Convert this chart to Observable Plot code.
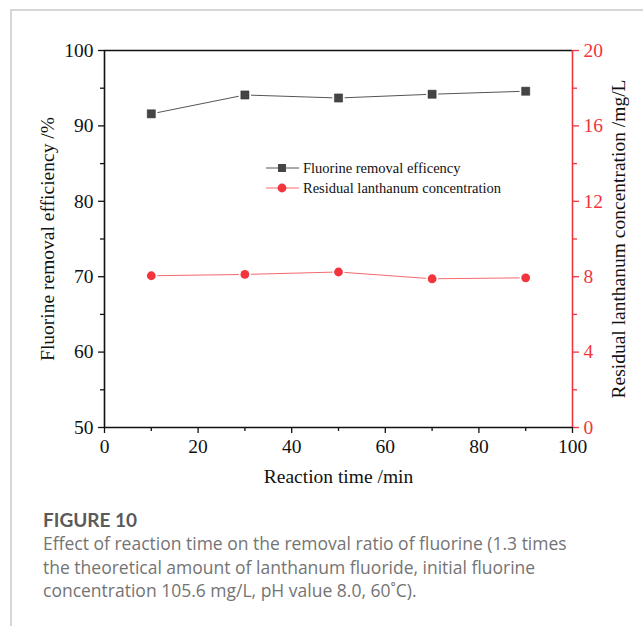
<!DOCTYPE html>
<html><head><meta charset="utf-8">
<script src="https://cdn.jsdelivr.net/npm/d3@7"></script>
<script src="https://cdn.jsdelivr.net/npm/@observablehq/plot@0.6"></script>
<style>
body{margin:0;background:#fff;width:643px;height:626px;position:relative;overflow:hidden;}
#frame{position:absolute;left:10px;top:9px;width:640px;height:630px;border-top:2px solid #d6d6d6;border-left:2px solid #d6d6d6;}
#chart{position:absolute;left:0;top:0;}
#legend{position:absolute;left:266px;top:158px;font-family:"Liberation Serif",serif;font-size:14.5px;color:#111;line-height:20px;}
#legend div{display:flex;align-items:center;}
#legend svg{margin-right:4px;}
#caption{position:absolute;left:43px;top:508px;width:548px;font-family:"Open Sans",Lato,sans-serif;color:#747474;}
#caption .t{font-family:Lato,"Open Sans",sans-serif;font-weight:bold;font-size:19px;color:#5a5a5a;margin-bottom:1px;}
#caption .d{font-size:17.5px;line-height:23.5px;}
</style></head>
<body>
<div id="frame"></div>
<div id="chart"></div>
<div id="legend"></div>
<div id="caption"><div class="t">FIGURE 10</div><div class="d">Effect of reaction time on the removal ratio of fluorine (1.3 times the theoretical amount of lanthanum fluoride, initial fluorine concentration 105.6 mg/L, pH value 8.0, 60˚C).</div></div>
<script>
const time = [10, 30, 50, 70, 90];
const fluorineRemoval = [91.6, 94.1, 93.7, 94.2, 94.6];
const lanthanum = [8.05, 8.12, 8.25, 7.89, 7.94];
const xTicks = [0, 20, 40, 60, 80, 100];
const xMinor = [10, 30, 50, 70, 90];
const leftTicks = [50, 60, 70, 80, 90, 100];
const leftMinor = [55, 65, 75, 85, 95];
const rightTicks = [0, 4, 8, 12, 16, 20];
const rightMinor = [2, 6, 10, 14, 18];
const seriesNames = ["Fluorine removal efficency", "Residual lanthanum concentration"];

// right axis (0..20) mapped onto left axis (50..100)
const toLeft = v => 50 + v * 2.5;
const toRight = d => (d - 50) / 2.5;

const fData = time.map((t, i) => ({t, v: fluorineRemoval[i]}));
const lData = time.map((t, i) => ({t, v: toLeft(lanthanum[i])}));
const red = "#f2343c";
const black = "#111";
const font = "'Liberation Serif', 'Times New Roman', serif";
const fs = 19.5;

const chart = Plot.plot({
  width: 643, height: 490,
  marginLeft: 104, marginRight: 71, marginTop: 50, marginBottom: 63,
  style: {fontFamily: font, fontSize: fs + "px", color: black, background: "transparent"},
  x: {domain: [0, 100]},
  y: {domain: [50, 100]},
  marks: [
    Plot.axisX(xTicks, {fontSize: fs, tickSize: 6, tickPadding: 6, stroke: black, strokeWidth: 1.3, label: "Reaction time /min", labelAnchor: "center", labelOffset: 55, labelArrow: "none"}),
    Plot.axisX(xMinor, {tickSize: 4, stroke: black, strokeWidth: 1.3, tickFormat: () => "", label: null}),
    Plot.axisY(leftTicks, {fontSize: fs, anchor: "left", tickSize: 6, tickPadding: 5, stroke: black, strokeWidth: 1.3, label: "Fluorine removal efficiency /%", labelAnchor: "center", labelOffset: 64, labelArrow: "none"}),
    Plot.axisY(leftMinor, {anchor: "left", tickSize: 4, stroke: black, strokeWidth: 1.3, tickFormat: () => "", label: null}),
    Plot.axisY(rightTicks.map(toLeft), {fontSize: fs, anchor: "right", tickSize: 6, tickPadding: 5, stroke: red, fill: red, strokeWidth: 1.3, tickFormat: toRight, label: null}),
    Plot.axisY(rightMinor.map(toLeft), {anchor: "right", tickSize: 4, stroke: red, strokeWidth: 1.3, tickFormat: () => "", label: null}),
    Plot.axisY([77], {fontSize: fs, anchor: "right", tickSize: 0, tickFormat: () => "", label: "Residual lanthanum concentration /mg/L", labelAnchor: "center", labelOffset: 52, labelArrow: "none", fill: black}),
    Plot.ruleY([50, 100], {stroke: black, strokeWidth: 1.6}),
    Plot.ruleX([0], {stroke: black, strokeWidth: 1.6}),
    Plot.ruleX([100], {stroke: red, strokeWidth: 1.6}),
    Plot.line(fData, {x: "t", y: "v", stroke: "#555", strokeWidth: 1}),
    Plot.dot(fData, {x: "t", y: "v", symbol: "square", r: 5.2, fill: "white", stroke: "white", strokeWidth: 3}),
    Plot.dot(fData, {x: "t", y: "v", symbol: "square", r: 4.6, fill: "#454545", stroke: "#333", strokeWidth: 0.5}),
    Plot.line(lData, {x: "t", y: "v", stroke: "#f46a6e", strokeWidth: 1}),
    Plot.dot(lData, {x: "t", y: "v", r: 4.6, fill: "white", stroke: "white", strokeWidth: 3}),
    Plot.dot(lData, {x: "t", y: "v", r: 4.4, fill: red})
  ]
});
document.getElementById("chart").appendChild(chart);

// legend
const legend = document.getElementById("legend");
const legendStyles = [
  {line: "#555", fill: "#454545", shape: "square"},
  {line: "#f46a6e", fill: red, shape: "circle"}
];
seriesNames.forEach((name, i) => {
  const s = legendStyles[i];
  const row = document.createElement("div");
  const marker = s.shape === "square"
    ? `<rect x="12" y="3" width="8" height="8" fill="${s.fill}"/>`
    : `<circle cx="16" cy="7" r="4.4" fill="${s.fill}"/>`;
  row.innerHTML = `<svg width="33" height="14"><line x1="0" x2="33" y1="7" y2="7" stroke="${s.line}" stroke-width="1"/>${marker}</svg><span>${name}</span>`;
  legend.appendChild(row);
});
</script>
</body></html>
